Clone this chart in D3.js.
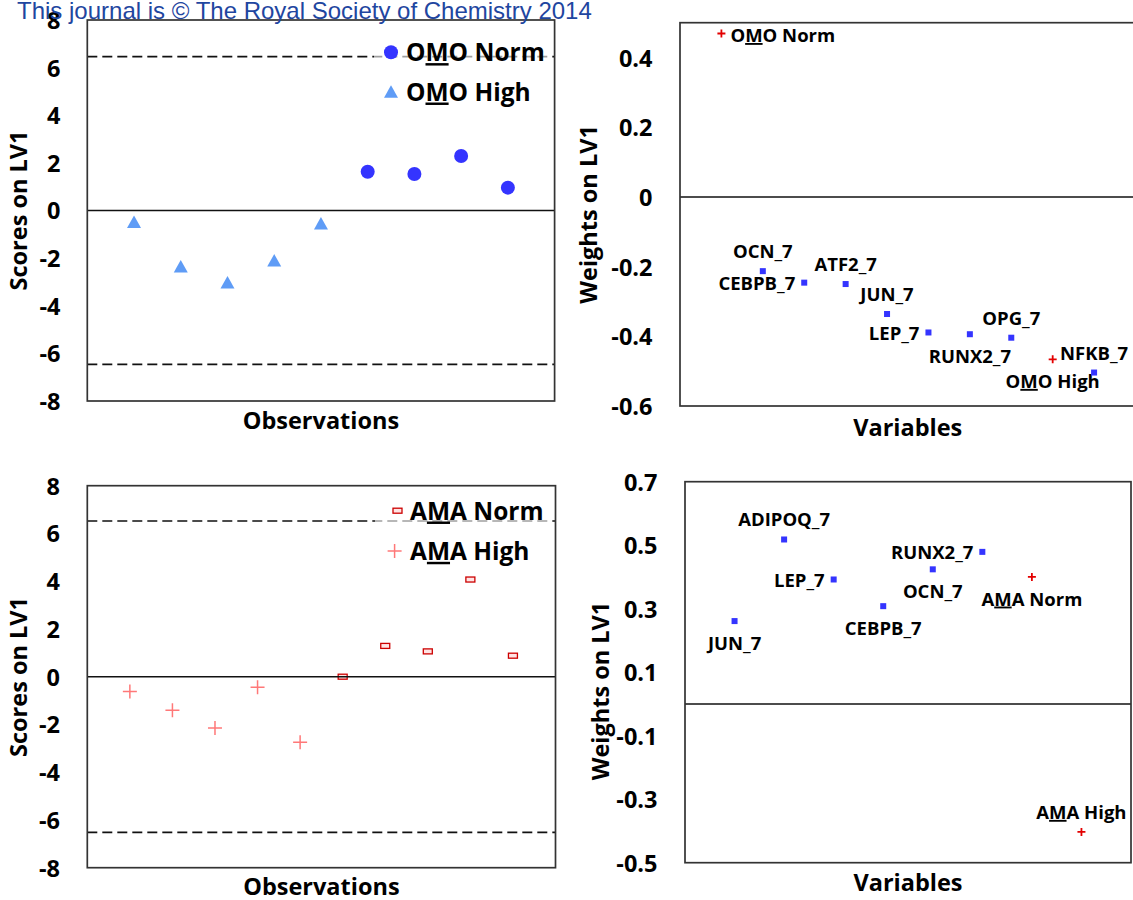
<!DOCTYPE html>
<html>
<head>
<meta charset="utf-8">
<script src="https://cdn.jsdelivr.net/npm/d3@7"></script>
<style>
  html, body { margin: 0; padding: 0; background: #fff; }
  svg { display: block; }
  text { font-family: "Open Sans", "DejaVu Sans", sans-serif; font-weight: 700; }
  text.header { font-family: "Liberation Sans", Arial, sans-serif; font-weight: 400; }
</style>
</head>
<body>
<svg id="chart" width="1133" height="900"></svg>
<script>
// ---- OMO: scores on LV1 per observation ----
const omoHighObs = [1, 2, 3, 4, 5];
const omoHighScores = [-0.48, -2.35, -3.02, -2.10, -0.55];
const omoNormObs = [6, 7, 8, 9];
const omoNormScores = [1.63, 1.53, 2.29, 0.96];
const omoLimits = [6.46, -6.46];

// ---- AMA: scores on LV1 per observation ----
const amaHighObs = [1, 2, 3, 4, 5];
const amaHighScores = [-0.62, -1.40, -2.15, -0.44, -2.75];
const amaNormObs = [6, 7, 8, 9, 10];
const amaNormScores = [0.00, 1.29, 1.06, 4.07, 0.88];
const amaLimits = [6.52, -6.52];

// ---- OMO: weights on LV1 per variable ----
const omoVariables = ["OMO Norm", "OCN_7", "CEBPB_7", "ATF2_7", "JUN_7", "LEP_7", "RUNX2_7", "OPG_7", "OMO High", "NFKB_7"];
const omoWeights = [0.469, -0.213, -0.246, -0.250, -0.336, -0.389, -0.394, -0.404, -0.466, -0.504];
const omoVarKind = ["class", "gene", "gene", "gene", "gene", "gene", "gene", "gene", "class", "gene"];
const omoLabelSide = ["right", "above", "left", "above", "above", "left", "below", "above", "below", "above"];

// ---- AMA: weights on LV1 per variable ----
const amaVariables = ["JUN_7", "ADIPOQ_7", "LEP_7", "CEBPB_7", "OCN_7", "RUNX2_7", "AMA Norm", "AMA High"];
const amaWeights = [0.261, 0.518, 0.392, 0.308, 0.424, 0.479, 0.400, -0.403];
const amaVarKind = ["gene", "gene", "gene", "gene", "gene", "gene", "class", "class"];
const amaLabelSide = ["below", "above", "left", "below", "below", "left", "below", "above"];

// ---- tick labels ----
const scoreTicks = [-8, -6, -4, -2, 0, 2, 4, 6, 8];
const omoWeightTicks = [-0.6, -0.4, -0.2, 0, 0.2, 0.4];
const amaWeightTicks = [-0.5, -0.3, -0.1, 0.1, 0.3, 0.5, 0.7];

const svg = d3.select("#chart");
const fmt = d => String(Math.round(d * 10) / 10);

const COL = {
  blueDot: "#3434ff",
  blueTri: "#5f9cf6",
  redPlus: "#e30000",
  pinkPlus: "#ff7878",
  redRect: "#cc0000",
  frame: "#333"
};

// Writes a name, underlining the middle letter of group names (OMO / AMA)
function writeName(sel, name, underline) {
  if (!underline) { sel.text(name); return; }
  sel.append("tspan").text(name[0]);
  sel.append("tspan").style("text-decoration", "underline").text(name[1]);
  sel.append("tspan").text(name.slice(2));
}

function panel(cfg) {
  const g = svg.append("g");
  const x = d3.scaleLinear().domain(cfg.xDomain).range([cfg.left, cfg.right]);
  const y = d3.scaleLinear().domain(cfg.yDomain).range([cfg.bottom, cfg.top]);

  g.append("rect")
    .attr("x", cfg.left).attr("y", cfg.top)
    .attr("width", cfg.right - cfg.left).attr("height", cfg.bottom - cfg.top)
    .attr("fill", "#fff");

  const ax = g.append("g")
    .attr("transform", `translate(${cfg.left},0)`)
    .call(d3.axisLeft(y).tickValues(cfg.ticks).tickSize(0)
      .tickPadding(cfg.left - cfg.labelRight).tickFormat(fmt));
  ax.select(".domain").remove();
  ax.attr("font-size", 23.5);
  ax.selectAll("text").attr("fill", "#000").attr("dy", "0.36em");

  g.append("text")
    .attr("transform", `translate(${cfg.yTitleX},${cfg.yTitleY}) rotate(-90)`)
    .attr("text-anchor", "middle").attr("font-size", 23.5).attr("fill", "#000")
    .text(cfg.yTitle);

  g.append("text")
    .attr("x", (cfg.left + cfg.right) / 2).attr("y", cfg.xTitleY)
    .attr("text-anchor", "middle").attr("font-size", 23.5).attr("fill", "#000")
    .text(cfg.xTitle);

  return { g, x, y, cfg };
}

function frame(p) {
  const c = p.cfg;
  p.g.append("line")
    .attr("x1", c.left).attr("x2", c.right)
    .attr("y1", p.y(0)).attr("y2", p.y(0))
    .attr("stroke", "#111").attr("stroke-width", 1.6);
  p.g.append("rect")
    .attr("x", c.left).attr("y", c.top)
    .attr("width", c.right - c.left).attr("height", c.bottom - c.top)
    .attr("fill", "none").attr("stroke", COL.frame).attr("stroke-width", 1.7);
}

function limits(p, vals) {
  p.g.selectAll(null).data(vals).enter().append("line")
    .attr("x1", p.cfg.left).attr("x2", p.cfg.right)
    .attr("y1", d => p.y(d)).attr("y2", d => p.y(d))
    .attr("stroke", "#111").attr("stroke-width", 1.6)
    .attr("stroke-dasharray", "10,5");
}

const triPath = "M0,-6.5 L7,6 L-7,6 Z";
const bigPlus = "M-7,0H7M0,-7V7";
const smallPlus = "M-4,0H4M0,-4V4";

function drawTri(sel) { sel.attr("d", triPath).attr("fill", COL.blueTri); }
function drawDot(sel) { sel.attr("r", 7).attr("fill", COL.blueDot); }
function drawPinkPlus(sel) { sel.attr("d", bigPlus).attr("fill", "none").attr("stroke", COL.pinkPlus).attr("stroke-width", 1.5); }
function drawRedRect(sel) {
  sel.attr("x", -4.5).attr("y", -2.5).attr("width", 9).attr("height", 5)
    .attr("fill", "#ffe4e4").attr("stroke", COL.redRect).attr("stroke-width", 1.3);
}

function legend(p, box, items) {
  p.g.append("rect")
    .attr("x", box[0]).attr("y", box[1]).attr("width", box[2]).attr("height", box[3])
    .attr("fill", "#fff").attr("opacity", 0.6);
  items.forEach(it => {
    const m = p.g.append("g").attr("transform", `translate(${it.mx},${it.my})`);
    it.draw(m);
    const t = p.g.append("text")
      .attr("x", it.tx).attr("y", it.my).attr("dy", "0.36em")
      .attr("font-size", 24.5).attr("fill", "#000");
    writeName(t, it.name, true);
  });
}

// ================= Panel: OMO scores =================
const pA = panel({
  left: 87.3, right: 554.6, top: 20, bottom: 401,
  xDomain: [0, 10], yDomain: [-8, 8], ticks: scoreTicks, labelRight: 60.5,
  yTitle: "Scores on LV1", yTitleX: 27, yTitleY: 210.5,
  xTitle: "Observations", xTitleY: 429
});
limits(pA, omoLimits);
legend(pA, [374, 30, 178, 82], [
  { name: "OMO Norm", mx: 391, my: 52.3, tx: 406, draw: g => drawDot(g.append("circle")) },
  { name: "OMO High", mx: 391, my: 91.7, tx: 406, draw: g => drawTri(g.append("path")) }
]);
pA.g.selectAll(null).data(d3.zip(omoHighObs, omoHighScores)).enter().append("path")
  .attr("transform", d => `translate(${pA.x(d[0])},${pA.y(d[1])})`).call(drawTri);
pA.g.selectAll(null).data(d3.zip(omoNormObs, omoNormScores)).enter().append("circle")
  .attr("cx", d => pA.x(d[0])).attr("cy", d => pA.y(d[1])).call(drawDot);
frame(pA);

// ================= Panel: AMA scores =================
const pC = panel({
  left: 87.3, right: 555.5, top: 485.7, bottom: 867.7,
  xDomain: [0, 11], yDomain: [-8, 8], ticks: scoreTicks, labelRight: 60,
  yTitle: "Scores on LV1", yTitleX: 27, yTitleY: 677,
  xTitle: "Observations", xTitleY: 895
});
limits(pC, amaLimits);
legend(pC, [375, 492, 173, 76], [
  { name: "AMA Norm", mx: 397.5, my: 510.7, tx: 410, draw: g => drawRedRect(g.append("rect")) },
  { name: "AMA High", mx: 394.6, my: 551, tx: 410, draw: g => drawPinkPlus(g.append("path")) }
]);
pC.g.selectAll(null).data(d3.zip(amaHighObs, amaHighScores)).enter().append("path")
  .attr("transform", d => `translate(${pC.x(d[0])},${pC.y(d[1])})`).call(drawPinkPlus);
pC.g.selectAll(null).data(d3.zip(amaNormObs, amaNormScores)).enter().append("g")
  .attr("transform", d => `translate(${pC.x(d[0])},${pC.y(d[1])})`)
  .append("rect").call(drawRedRect);
frame(pC);

// ================= Weights panels =================
function weights(p, names, vals, kinds, sides) {
  const rows = names.map((n, i) => ({ n, i: i + 1, v: vals[i], k: kinds[i], s: sides[i] }));
  rows.forEach(r => {
    const px = p.x(r.i), py = p.y(r.v);
    if (r.k === "gene") {
      p.g.append("rect").attr("x", px - 3).attr("y", py - 3).attr("width", 6).attr("height", 6)
        .attr("fill", COL.blueDot);
    } else {
      p.g.append("path").attr("transform", `translate(${px},${py})`).attr("d", smallPlus)
        .attr("fill", "none").attr("stroke", COL.redPlus).attr("stroke-width", 1.8);
    }
    const t = p.g.append("text").attr("font-size", 18.5).attr("fill", "#000");
    if (r.s === "above") t.attr("x", px).attr("y", py - 13).attr("text-anchor", "middle");
    else if (r.s === "below") t.attr("x", px).attr("y", py + 28.6).attr("text-anchor", "middle");
    else if (r.s === "left") t.attr("x", px - 9).attr("y", py + 7.6).attr("text-anchor", "end");
    else t.attr("x", px + 9).attr("y", py + 8.5).attr("text-anchor", "start");
    writeName(t, r.n, r.k === "class");
  });
}

const pB = panel({
  left: 680, right: 1135.5, top: 22.7, bottom: 406,
  xDomain: [0, 11], yDomain: [-0.6, 0.5], ticks: omoWeightTicks, labelRight: 652.5,
  yTitle: "Weights on LV1", yTitleX: 597, yTitleY: 214.4,
  xTitle: "Variables", xTitleY: 436
});
weights(pB, omoVariables, omoWeights, omoVarKind, omoLabelSide);
frame(pB);

const pD = panel({
  left: 685, right: 1131, top: 481.7, bottom: 862.7,
  xDomain: [0, 9], yDomain: [-0.5, 0.7], ticks: amaWeightTicks, labelRight: 657.5,
  yTitle: "Weights on LV1", yTitleX: 609, yTitleY: 691,
  xTitle: "Variables", xTitleY: 891
});
weights(pD, amaVariables, amaWeights, amaVarKind, amaLabelSide);
frame(pD);

// ---- copyright line across the top ----
svg.append("text").attr("class", "header")
  .attr("x", 17).attr("y", 18.5).attr("font-size", 24).attr("fill", "#1f46a0")
  .text("This journal is \u00A9 The Royal Society of Chemistry 2014");
</script>
</body>
</html>
